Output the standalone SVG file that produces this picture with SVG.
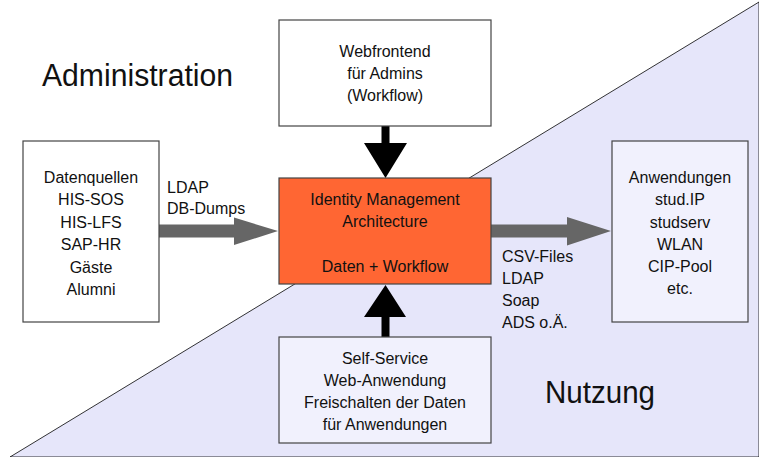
<svg xmlns="http://www.w3.org/2000/svg" width="759" height="457" viewBox="0 0 759 457">
  <style>
    .lbl { font-family: "Liberation Sans", Arial, sans-serif; font-size: 16px; fill: #111; }
    .mid { text-anchor: middle; }
    .big { font-family: "Liberation Sans", Arial, sans-serif; font-size: 31px; fill: #111; }
    .box { stroke: #444; stroke-width: 1.2; }
    .white { fill: #ffffff; }
    .pale { fill: #f1f1fd; }
    .core { fill: #ff6633; }
    .grey { fill: #666666; }
    .black { fill: #000000; }
  </style>

  <!-- background: admin area (white) and usage area (lavender) -->
  <rect x="0" y="0" width="759" height="457" fill="#ffffff"/>
  <polygon points="10,457 759,2 759,457" fill="#e6e6fa" stroke="#000" stroke-width="0.8"/>

  <text class="big" x="42" y="86" textLength="191" lengthAdjust="spacingAndGlyphs">Administration</text>
  <text class="big" x="545" y="403" textLength="110" lengthAdjust="spacingAndGlyphs">Nutzung</text>

  <!-- connectors -->
  <g id="connectors">
    <!-- Webfrontend -> IdM -->
    <polygon class="black" points="381.5,126 389.5,126 389.5,143 407,143 385.5,178 364,143 381.5,143"/>
    <!-- Self-Service -> IdM -->
    <polygon class="black" points="381.5,337 389.5,337 389.5,317 406,317 385.5,285 364,317 381.5,317"/>
    <!-- Datenquellen -> IdM -->
    <polygon class="grey" points="159,224.5 234,224.5 234,217.5 278,231 234,245 234,237.5 159,237.5"/>
    <!-- IdM -> Anwendungen -->
    <polygon class="grey" points="491,224.5 567,224.5 567,217 611,231 567,245.5 567,237.5 491,237.5"/>
    <text class="lbl" x="167" y="192.5">LDAP</text>
    <text class="lbl" x="167" y="213.5">DB-Dumps</text>
    <text class="lbl" x="502" y="261.5">CSV-Files</text>
    <text class="lbl" x="502" y="283.5">LDAP</text>
    <text class="lbl" x="502" y="305.5">Soap</text>
    <text class="lbl" x="502" y="327.5">ADS o.Ä.</text>
  </g>

  <g id="webfrontend">
    <rect class="box white" x="279" y="20" width="212" height="106"/>
    <text class="lbl mid" x="385" y="57">Webfrontend</text>
    <text class="lbl mid" x="385" y="79">für Admins</text>
    <text class="lbl mid" x="385" y="101">(Workflow)</text>
  </g>

  <g id="datenquellen">
    <rect class="box white" x="23" y="141" width="136" height="181"/>
    <text class="lbl mid" x="91" y="183">Datenquellen</text>
    <text class="lbl mid" x="91" y="205.4">HIS-SOS</text>
    <text class="lbl mid" x="91" y="227.8">HIS-LFS</text>
    <text class="lbl mid" x="91" y="250.2">SAP-HR</text>
    <text class="lbl mid" x="91" y="272.6">Gäste</text>
    <text class="lbl mid" x="91" y="295">Alumni</text>
  </g>

  <g id="idm">
    <rect class="box core" x="279" y="178" width="212" height="106"/>
    <text class="lbl mid" x="385" y="205">Identity Management</text>
    <text class="lbl mid" x="385" y="227">Architecture</text>
    <text class="lbl mid" x="385" y="271.5">Daten + Workflow</text>
  </g>

  <g id="anwendungen">
    <rect class="box pale" x="612" y="141" width="136" height="181"/>
    <text class="lbl mid" x="680" y="183">Anwendungen</text>
    <text class="lbl mid" x="680" y="205">stud.IP</text>
    <text class="lbl mid" x="680" y="227.5">studserv</text>
    <text class="lbl mid" x="680" y="250">WLAN</text>
    <text class="lbl mid" x="680" y="272">CIP-Pool</text>
    <text class="lbl mid" x="680" y="294">etc.</text>
  </g>

  <g id="selfservice">
    <rect class="box pale" x="279" y="337" width="212" height="106"/>
    <text class="lbl mid" x="385" y="363.5">Self-Service</text>
    <text class="lbl mid" x="385" y="386">Web-Anwendung</text>
    <text class="lbl mid" x="385" y="408">Freischalten der Daten</text>
    <text class="lbl mid" x="385" y="430">für Anwendungen</text>
  </g>
</svg>
